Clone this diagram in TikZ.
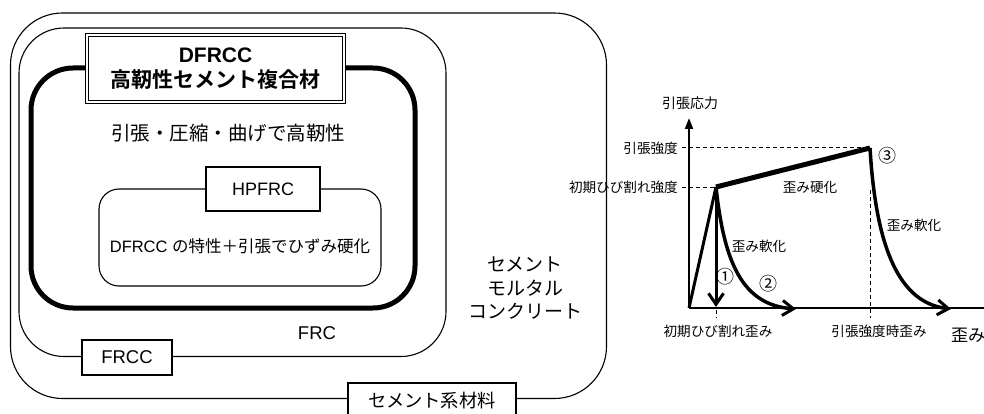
\documentclass[tikz,border=0pt]{standalone}
\usepackage{fontspec}
\setmainfont{Liberation Sans}
\newfontfamily\jp{Noto Sans CJK JP}[BoldFont={Noto Sans CJK JP Bold}]
\usetikzlibrary{arrows.meta}
\begin{document}
\begin{tikzpicture}[x=1pt,y=-1pt,
  frame/.style={draw, line width=1.1pt, rounded corners=#1, inner sep=0pt},
  tagbox/.style={draw, line width=1.4pt, fill=white, inner sep=0pt},
  lbl/.style={inner sep=0pt},
  small/.style={lbl, font=\fontsize{13.6}{16}\selectfont\jp},
  circnum/.style={lbl, font=\fontsize{18}{20}\selectfont\jp},
  dashline/.style={dashed, dash pattern=on 4pt off 3pt, line width=1pt},
  barb/.style={-{Straight Barb[length=11pt,width=15pt,line width=3pt]}}
]
\useasboundingbox (0,0) rectangle (984,414);

% ---------------- left diagram ----------------
\node[frame=52pt, minimum width=596pt, minimum height=385.5pt] (cement) at (308.5,205.75) {};
\node[frame=45pt, minimum width=427pt, minimum height=328.5pt] (frc) at (232.5,192.25) {};
\node[draw, line width=5pt, rounded corners=42pt, inner sep=0pt, minimum width=384pt, minimum height=240pt] (dfrcc) at (223,188) {};
\node[frame=20pt, minimum width=282pt, minimum height=97pt] (hpfrcarea) at (240,237.5) {};

\node[draw, double, line width=1.2pt, double distance=1.6pt, fill=white, inner sep=0pt,
      minimum width=257pt, minimum height=67pt, align=center,
      font=\fontsize{21}{26}\selectfont\bfseries] (title) at (215.5,68.5)
      {DFRCC\\[-0.5pt]{\jp\bfseries 高靭性セメント複合材}};

\node[lbl, font=\fontsize{19.5}{22}\selectfont\jp] (tough) at (228,133) {引張・圧縮・曲げで高靭性};

\node[tagbox, minimum width=114pt, minimum height=44pt, font=\fontsize{18}{20}\selectfont] (hpfrc) at (263,189) {HPFRC};
\node[lbl, font=\fontsize{16.5}{19}\selectfont] (hpdesc) at (240,246) {DFRCC {\jp の特性＋引張でひずみ硬化}};

\node[lbl, font=\fontsize{18.5}{20}\selectfont] (frclbl) at (317,333) {FRC};
\node[tagbox, minimum width=90pt, minimum height=35pt, font=\fontsize{18.5}{20}\selectfont] (frcc) at (127,357.5) {FRCC};
\node[tagbox, minimum width=168pt, minimum height=35pt, font=\fontsize{18.3}{20}\selectfont\jp] (cemlbl) at (432,400.5) {セメント系材料};

\node[lbl, align=center, font=\fontsize{19}{23.5}\selectfont\jp] (mortar) at (525,288.5) {セメント\\モルタル\\コンクリート};

% ---------------- right chart ----------------
\coordinate (O) at (689,308);
\coordinate (ytop) at (689,118);
\coordinate (xend) at (984,308);
\coordinate (C) at (716,187);
\coordinate (P) at (870,148);
\coordinate (C1) at (716,307);
\coordinate (A2) at (796,309);
\coordinate (A3) at (951,309);
\coordinate (Pd) at (870,190);
\coordinate (Pb) at (870,318);
\coordinate (Cd) at (716,310);
\coordinate (Cb) at (716,318);

\node[lbl, font=\fontsize{14}{16}\selectfont\jp] (ylab) at (690,103) {引張応力};
\node[small, anchor=east] (lstr) at (678,148) {引張強度};
\node[small, anchor=east] (lcrack) at (678,187) {初期ひび割れ強度};
\node[small] (hard) at (810,187) {歪み硬化};
\node[small] (soft1) at (759,246) {歪み軟化};
\node[small] (soft2) at (914,225) {歪み軟化};
\node[circnum] (n1) at (725,277) {①};
\node[circnum] (n2) at (768,284) {②};
\node[circnum] (n3) at (887,156) {③};
\node[small] (ecrack) at (718,331) {初期ひび割れ歪み};
\node[small] (estr) at (879,331) {引張強度時歪み};
\node[lbl, font=\fontsize{17}{19}\selectfont\jp] (xlab) at (968,335) {歪み};

\draw[dashline] ([xshift=4pt]lstr.east) -- (P);
\draw[dashline] ([xshift=4pt]lcrack.east) -- (C);
\draw[dashline] (Pd) -- (Pb);
\draw[dashline] (Cd) -- (Cb);

\draw[line width=2pt, -{Triangle[length=11pt,width=8pt]}] (O) -- (ytop);
\draw[line width=2pt] (O) -- (xend);
\draw[line width=3pt, line join=miter] (O) -- (C);
\draw[line width=5pt, line cap=butt] (C) -- (P);
\draw[line width=3pt, barb] (C) -- (C1);
\draw[line width=3.5pt, barb] (C) .. controls (724,262) and (742,305) .. (A2);
\draw[line width=3.5pt, barb] (P) .. controls (876,250) and (900,303) .. (A3);
\end{tikzpicture}
\end{document}
